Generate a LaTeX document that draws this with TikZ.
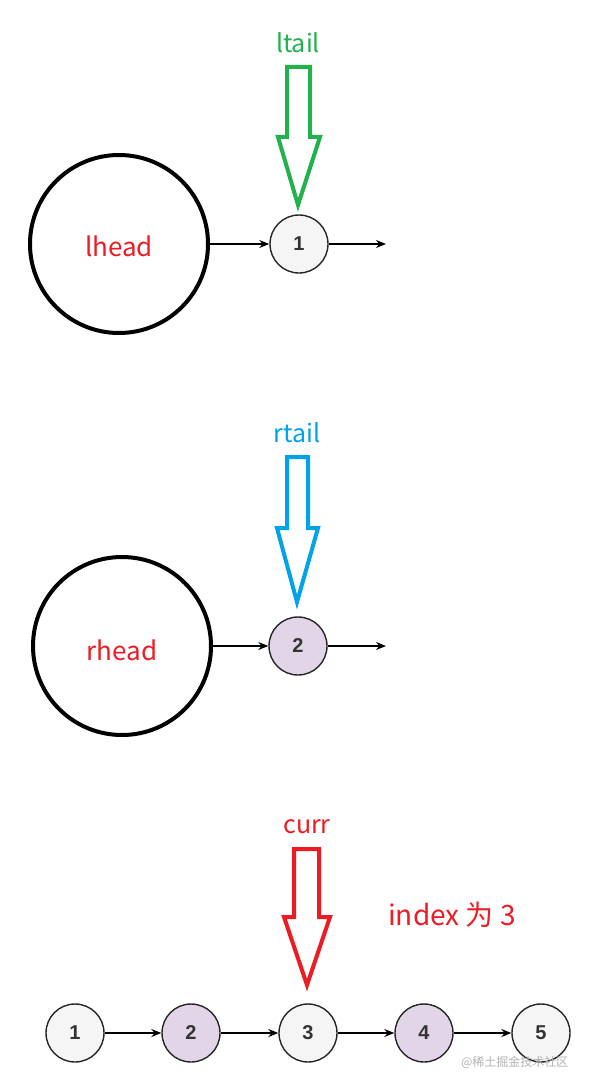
\documentclass[tikz,border=0pt]{standalone}
\usepackage{fontspec}
\setmainfont{Noto Sans CJK SC}
\newfontfamily\numfont{Liberation Sans}
\usetikzlibrary{arrows.meta}
\definecolor{pgreen}{HTML}{22B14C}
\definecolor{pblue}{HTML}{00A2E8}
\definecolor{pred}{HTML}{ED1C24}
\definecolor{lightnode}{HTML}{F5F5F5}
\definecolor{purplenode}{HTML}{E1D5E7}
\begin{document}
\begin{tikzpicture}[x=1pt,y=-1pt,
  bigcirc/.style={circle,draw=black,line width=4pt,minimum size=178pt,inner sep=0pt,fill=white},
  listnode/.style={circle,draw=black!85,line width=1.4pt,minimum size=58pt,inner sep=0pt,font=\numfont\bfseries\fontsize{20}{20}\selectfont,text=black!80},
  lnode/.style={listnode,fill=lightnode},
  pnode/.style={listnode,fill=purplenode},
  link/.style={line width=1.3pt,-{Stealth[length=10pt,width=8pt]}},
  redtxt/.style={text=pred,font=\fontsize{26}{26}\selectfont},
  lbl/.style={font=\fontsize{25}{25}\selectfont},
  blockarrow/.style={line width=4pt,fill=white}
]
\useasboundingbox (0,0) rectangle (590,1089);

% ---------- top ----------
\node[bigcirc] (lhead) at (119,244) {};
\node[redtxt] (lheadtxt) at (119,246) {lhead};
\node[lnode] (n1top) at (299,244) {1};
\coordinate (e1) at (386,244);
\draw[link] (lhead) -- (n1top);
\draw[link] (n1top) -- (e1);
\draw[blockarrow,draw=pgreen] (287,67) -- (310,67) -- (310,137) -- (320,137) -- (298,205) -- (278,137) -- (287,137) -- cycle;
\node[lbl,text=pgreen] (ltail) at (298,43) {ltail};

% ---------- middle ----------
\node[bigcirc] (rhead) at (122,646) {};
\node[redtxt] (rheadtxt) at (122,650) {rhead};
\node[pnode] (n2mid) at (298,646) {2};
\coordinate (e2) at (386,646);
\draw[link] (rhead) -- (n2mid);
\draw[link] (n2mid) -- (e2);
\draw[blockarrow,draw=pblue] (287,457) -- (308,457) -- (308,528) -- (318,528) -- (297,602) -- (277,528) -- (287,528) -- cycle;
\node[lbl,text=pblue] (rtail) at (297,433) {rtail};

% ---------- bottom ----------
\node[lnode] (b1) at (75,1033) {1};
\node[pnode] (b2) at (191,1033) {2};
\node[lnode] (b3) at (308,1033) {3};
\node[pnode] (b4) at (424,1033) {4};
\node[lnode] (b5) at (541,1033) {5};
\draw[link] (b1) -- (b2);
\draw[link] (b2) -- (b3);
\draw[link] (b3) -- (b4);
\draw[link] (b4) -- (b5);
\draw[blockarrow,draw=pred] (294,849) -- (319,849) -- (319,917) -- (330,917) -- (307,985) -- (284,917) -- (294,917) -- cycle;
\node[lbl,text=pred] (curr) at (307,827) {curr};
\node[text=pred,font=\fontsize{28}{28}\selectfont] (index) at (452,915) {index 为 3};
\node[anchor=east,text=black!30,font=\fontsize{12}{12}\selectfont] (wm) at (572,1062) {@稀土掘金技术社区};
\end{tikzpicture}
\end{document}
